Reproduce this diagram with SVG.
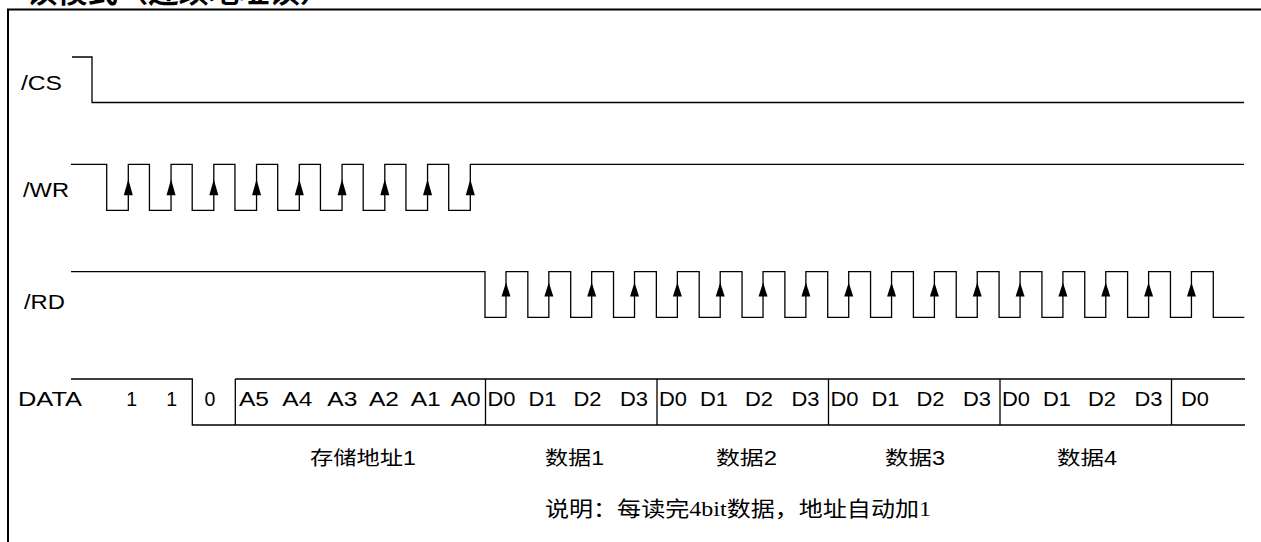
<svg xmlns="http://www.w3.org/2000/svg" width="1261" height="542" viewBox="0 0 1261 542">
<style>
.sig{fill:none;stroke:#000;stroke-width:1.3}
.frame{fill:none;stroke:#000;stroke-width:2}
.arr{fill:#000;stroke:none}
text{font-family:"Liberation Sans","Noto Sans CJK SC",sans-serif;font-size:19.5px;fill:#000}
.cn{font-family:"Liberation Sans","Noto Sans CJK SC",sans-serif}
.note{font-family:"Liberation Serif","Noto Sans CJK SC",serif;font-size:21px}
.title{font-family:"Liberation Sans","Noto Sans CJK SC",sans-serif;font-size:28px;font-weight:bold}
.mid{text-anchor:middle}
</style>
<defs>
<path id="aw" class="arr" d="M0,0 L4.5,16 L-4.5,16 Z"/>
<path id="ar" class="arr" d="M0,0 L4.5,14 L-4.5,14 Z"/>
</defs>
<rect width="1261" height="542" fill="#fff"/>
<text class="title" x="27" y="3" textLength="303" lengthAdjust="spacingAndGlyphs">读模式（连续地址读）</text>
<path class="frame" d="M8,542 V9.5 H1261"/>

<g id="cs">
<text x="21" y="89.5" textLength="41" lengthAdjust="spacingAndGlyphs">/CS</text>
<path class="sig" d="M72,57 H92 V102.5 H1244"/>
</g>

<g id="wr">
<text x="23" y="196.5" textLength="46" lengthAdjust="spacingAndGlyphs">/WR</text>
<path class="sig" d="M71,164.3 H106.7 V210.3 H128.3 V164.3 H149.45 V210.3 H171.05 V164.3 H192.2 V210.3 H213.8 V164.3 H234.95 V210.3 H256.55 V164.3 H277.7 V210.3 H299.3 V164.3 H320.45 V210.3 H342.05 V164.3 H363.2 V210.3 H384.8 V164.3 H405.95 V210.3 H427.55 V164.3 H448.7 V210.3 H470.3 V164.3 H1244"/>
<use href="#aw" x="128.3" y="179.3"/>
<use href="#aw" x="171.05" y="179.3"/>
<use href="#aw" x="213.8" y="179.3"/>
<use href="#aw" x="256.55" y="179.3"/>
<use href="#aw" x="299.3" y="179.3"/>
<use href="#aw" x="342.05" y="179.3"/>
<use href="#aw" x="384.8" y="179.3"/>
<use href="#aw" x="427.55" y="179.3"/>
<use href="#aw" x="470.3" y="179.3"/>
</g>

<g id="rd">
<text x="24" y="308.5" textLength="41" lengthAdjust="spacingAndGlyphs">/RD</text>
<path class="sig" d="M71,271.7 H485 V317.3 H506 V271.7 H527.84 V317.3 H548.84 V271.7 H570.68 V317.3 H591.68 V271.7 H613.52 V317.3 H634.52 V271.7 H656.36 V317.3 H677.36 V271.7 H699.2 V317.3 H720.2 V271.7 H742.04 V317.3 H763.04 V271.7 H784.88 V317.3 H805.88 V271.7 H827.72 V317.3 H848.72 V271.7 H870.56 V317.3 H891.56 V271.7 H913.4 V317.3 H934.4 V271.7 H956.24 V317.3 H977.24 V271.7 H999.08 V317.3 H1020.08 V271.7 H1041.92 V317.3 H1062.92 V271.7 H1084.76 V317.3 H1105.76 V271.7 H1127.6 V317.3 H1148.6 V271.7 H1170.44 V317.3 H1191.44 V271.7 H1213.28 V317.3 H1244.3"/>
<use href="#ar" x="506" y="282.5"/>
<use href="#ar" x="548.84" y="282.5"/>
<use href="#ar" x="591.68" y="282.5"/>
<use href="#ar" x="634.52" y="282.5"/>
<use href="#ar" x="677.36" y="282.5"/>
<use href="#ar" x="720.2" y="282.5"/>
<use href="#ar" x="763.04" y="282.5"/>
<use href="#ar" x="805.88" y="282.5"/>
<use href="#ar" x="848.72" y="282.5"/>
<use href="#ar" x="891.56" y="282.5"/>
<use href="#ar" x="934.4" y="282.5"/>
<use href="#ar" x="977.24" y="282.5"/>
<use href="#ar" x="1020.08" y="282.5"/>
<use href="#ar" x="1062.92" y="282.5"/>
<use href="#ar" x="1105.76" y="282.5"/>
<use href="#ar" x="1148.6" y="282.5"/>
<use href="#ar" x="1191.44" y="282.5"/>
</g>

<g id="data">
<text x="18" y="406" textLength="64" lengthAdjust="spacingAndGlyphs">DATA</text>
<path class="sig" d="M71,379 H192.3 V425 H1245 M235.3,379 V425 M235.3,379 H1245 M485.5,379 V425 M657,379 V425 M828.5,379 V425 M1000,379 V425 M1171.5,379 V425"/>
<text class="mid" x="131.7" y="406">1</text>
<text class="mid" x="171.7" y="406">1</text>
<text class="mid" x="210" y="406">0</text>
<text x="239" y="406" textLength="30" lengthAdjust="spacingAndGlyphs">A5</text>
<text x="282.3" y="406" textLength="30" lengthAdjust="spacingAndGlyphs">A4</text>
<text x="327.3" y="406" textLength="30" lengthAdjust="spacingAndGlyphs">A3</text>
<text x="369" y="406" textLength="30" lengthAdjust="spacingAndGlyphs">A2</text>
<text x="410.7" y="406" textLength="30" lengthAdjust="spacingAndGlyphs">A1</text>
<text x="450.7" y="406" textLength="30" lengthAdjust="spacingAndGlyphs">A0</text>
<g id="cell1">
<text x="487.5" y="406" textLength="28" lengthAdjust="spacingAndGlyphs">D0</text>
<text x="528.5" y="406" textLength="28" lengthAdjust="spacingAndGlyphs">D1</text>
<text x="573.5" y="406" textLength="28" lengthAdjust="spacingAndGlyphs">D2</text>
<text x="620" y="406" textLength="28" lengthAdjust="spacingAndGlyphs">D3</text>
</g>
<g id="cell2">
<text x="659" y="406" textLength="28" lengthAdjust="spacingAndGlyphs">D0</text>
<text x="700" y="406" textLength="28" lengthAdjust="spacingAndGlyphs">D1</text>
<text x="745" y="406" textLength="28" lengthAdjust="spacingAndGlyphs">D2</text>
<text x="791.5" y="406" textLength="28" lengthAdjust="spacingAndGlyphs">D3</text>
</g>
<g id="cell3">
<text x="830.5" y="406" textLength="28" lengthAdjust="spacingAndGlyphs">D0</text>
<text x="871.5" y="406" textLength="28" lengthAdjust="spacingAndGlyphs">D1</text>
<text x="916.5" y="406" textLength="28" lengthAdjust="spacingAndGlyphs">D2</text>
<text x="963" y="406" textLength="28" lengthAdjust="spacingAndGlyphs">D3</text>
</g>
<g id="cell4">
<text x="1002" y="406" textLength="28" lengthAdjust="spacingAndGlyphs">D0</text>
<text x="1043" y="406" textLength="28" lengthAdjust="spacingAndGlyphs">D1</text>
<text x="1088" y="406" textLength="28" lengthAdjust="spacingAndGlyphs">D2</text>
<text x="1134.5" y="406" textLength="28" lengthAdjust="spacingAndGlyphs">D3</text>
</g>
<text x="1181" y="406" textLength="28" lengthAdjust="spacingAndGlyphs">D0</text>
</g>

<g id="labels">
<text class="cn" x="310" y="465" textLength="106" lengthAdjust="spacingAndGlyphs">存储地址1</text>
<text class="cn" x="545" y="465" textLength="59" lengthAdjust="spacingAndGlyphs">数据1</text>
<text class="cn" x="716" y="465" textLength="61" lengthAdjust="spacingAndGlyphs">数据2</text>
<text class="cn" x="885" y="465" textLength="60" lengthAdjust="spacingAndGlyphs">数据3</text>
<text class="cn" x="1057" y="465" textLength="60" lengthAdjust="spacingAndGlyphs">数据4</text>
<text class="note" x="545" y="516" textLength="386" lengthAdjust="spacingAndGlyphs">说明：每读完4bit数据，地址自动加1</text>
</g>
</svg>
